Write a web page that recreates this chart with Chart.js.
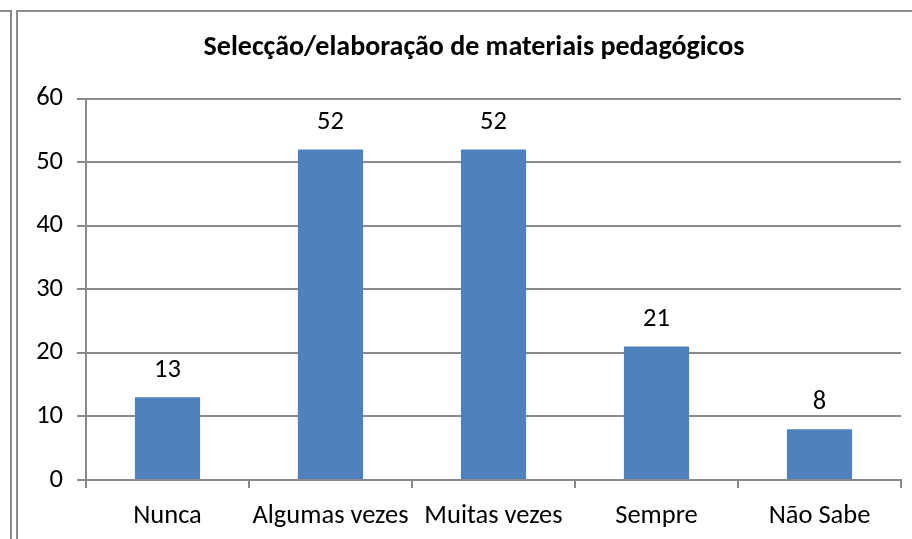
<!DOCTYPE html>
<html>
<head>
<meta charset="utf-8">
<script src="https://cdn.jsdelivr.net/npm/chart.js@4"></script>
<style>
  html, body { margin: 0; padding: 0; background: #ffffff; }
  #wrap { width: 912px; height: 539px; }
</style>
</head>
<body>
<div id="wrap"><canvas id="chart" width="912" height="539"></canvas></div>
<script>
"use strict";

// Data
var categories = ['Nunca', 'Algumas vezes', 'Muitas vezes', 'Sempre', 'Não Sabe'];
var counts = [13, 52, 52, 21, 8];
var titleText = 'Selecção/elaboração de materiais pedagógicos';

var fontFamily = "Carlito, 'Open Sans', sans-serif";
var labelSize = 26.5;
var gridGray = '#8a8a8a';

// Frame lines around the chart, like the document borders
var framePlugin = {
    id: 'frame',
    beforeDraw: function (chart) {
        var ctx = chart.ctx;
        ctx.save();
        ctx.strokeStyle = '#8c8c8c';
        ctx.lineWidth = 2;
        ctx.beginPath();
        // left box edge
        ctx.moveTo(0, 11); ctx.lineTo(11, 11); ctx.lineTo(11, 539);
        // chart frame
        ctx.moveTo(17, 539); ctx.lineTo(17, 11); ctx.lineTo(912, 11);
        ctx.stroke();
        ctx.restore();
    }
};

// The frame runs past the right edge, so the title sits a bit right of the plot centre
var titleShift = {
    id: 'titleShift',
    afterLayout: function (chart) {
        if (chart.titleBlock) {
            chart.titleBlock.left = 47;
            chart.titleBlock.right = 901;
        }
    }
};

// Value labels above each bar
var valueLabels = {
    id: 'valueLabels',
    afterDatasetsDraw: function (chart) {
        var ctx = chart.ctx;
        var meta = chart.getDatasetMeta(0);
        ctx.save();
        ctx.fillStyle = '#000000';
        ctx.font = labelSize + 'px ' + fontFamily;
        ctx.textAlign = 'center';
        ctx.textBaseline = 'middle';
        meta.data.forEach(function (bar, i) {
            ctx.fillText(String(counts[i]), bar.x, bar.y - 27);
        });
        ctx.restore();
    }
};

var ctx = document.getElementById('chart').getContext('2d');
var chart = new Chart(ctx, {
    type: 'bar',
    data: {
        labels: categories,
        datasets: [{
            data: counts,
            backgroundColor: '#4f81bd',
            borderWidth: 0,
            categoryPercentage: 0.8,
            barPercentage: 0.5
        }]
    },
    options: {
        responsive: false,
        animation: false,
        layout: { padding: { top: 0, right: 11, bottom: 0, left: 0 } },
        plugins: {
            legend: { display: false },
            tooltip: { enabled: false },
            title: {
                display: true,
                text: titleText,
                color: '#000000',
                font: { family: fontFamily, size: 28, weight: 'bold' },
                padding: { top: 31, bottom: 34 }
            }
        },
        scales: {
            x: {
                grid: {
                    offset: true,
                    drawOnChartArea: false,
                    drawTicks: true,
                    tickLength: 8,
                    color: gridGray,
                    lineWidth: 2
                },
                border: { color: gridGray, width: 2 },
                ticks: {
                    color: '#000000',
                    font: { family: fontFamily, size: labelSize },
                    padding: 12,
                    maxRotation: 0,
                    autoSkip: false
                },
                afterFit: function (scale) { scale.height = 59; }
            },
            y: {
                min: 0,
                max: 60,
                ticks: {
                    stepSize: 10,
                    color: '#000000',
                    font: { family: fontFamily, size: labelSize },
                    padding: 14
                },
                grid: {
                    color: gridGray,
                    lineWidth: 2,
                    tickLength: 9
                },
                border: { color: gridGray, width: 2 },
                afterFit: function (scale) { scale.width = 86; }
            }
        }
    },
    plugins: [framePlugin, titleShift, valueLabels]
});
</script>
</body>
</html>
